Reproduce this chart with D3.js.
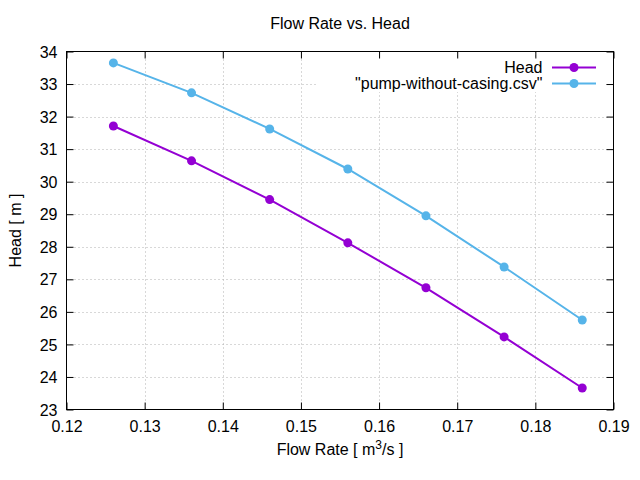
<!DOCTYPE html>
<html><head><meta charset="utf-8">
<script src="https://cdn.jsdelivr.net/npm/d3@7"></script>
<style>
html,body{margin:0;padding:0;background:#fff;}
text{font-family:"Liberation Sans",Arial,sans-serif;fill:#000;}
</style></head>
<body>
<svg id="chart" width="640" height="480"></svg>
<script>
const flowRate = [0.126, 0.136, 0.146, 0.156, 0.166, 0.176, 0.186];
const headValues = [31.71, 30.64, 29.45, 28.12, 26.74, 25.23, 23.66];
const pumpWithoutCasing = [33.65, 32.73, 31.62, 30.39, 28.95, 27.38, 25.75];
const xTicks = [0.12, 0.13, 0.14, 0.15, 0.16, 0.17, 0.18, 0.19];
const yTicks = [23, 24, 25, 26, 27, 28, 29, 30, 31, 32, 33, 34];
const seriesNames = ["Head", "\"pump-without-casing.csv\""];
const seriesColors = ["#9400d3", "#56b4e9"];
const titleText = "Flow Rate vs. Head";
const yLabelText = "Head [ m ]";

const svg = d3.select("#chart");
const L = 66.5, R = 613.5, T = 51.5, B = 409.5;
const x = d3.scaleLinear().domain([0.12, 0.19]).range([L, R]);
const y = d3.scaleLinear().domain([23, 34]).range([B, T]);
const FS = 16;

// grid
const grid = svg.append("g");
xTicks.slice(1, -1).forEach(t => {
  grid.append("line").attr("x1", Math.round(x(t)) + 0.5).attr("x2", Math.round(x(t)) + 0.5)
    .attr("y1", T).attr("y2", B).attr("stroke", "#b0b0b0").attr("stroke-width", 1).attr("stroke-dasharray", "1,3");
});
yTicks.slice(1, -1).forEach(t => {
  grid.append("line").attr("y1", Math.round(y(t)) + 0.5).attr("y2", Math.round(y(t)) + 0.5)
    .attr("x1", L).attr("x2", R).attr("stroke", "#b0b0b0").attr("stroke-width", 1).attr("stroke-dasharray", "1,3");
});

// legend background (opaque key)
svg.append("rect").attr("x", 316).attr("y", 57).attr("width", 290).attr("height", 35).attr("fill", "#fff");

// axes with inward ticks (mirrored)
const tl = 7;
const xb = svg.append("g").attr("transform", `translate(0,${B})`)
  .call(d3.axisBottom(x).tickValues(xTicks).tickSizeInner(-tl).tickSizeOuter(0).tickFormat(d3.format(".2f")));
const xt = svg.append("g").attr("transform", `translate(0,${T})`)
  .call(d3.axisTop(x).tickValues(xTicks).tickSizeInner(-tl).tickSizeOuter(0).tickFormat(""));
const yl = svg.append("g").attr("transform", `translate(${L},0)`)
  .call(d3.axisLeft(y).tickValues(yTicks).tickSizeInner(-tl).tickSizeOuter(0).tickFormat(d3.format("d")));
const yr = svg.append("g").attr("transform", `translate(${R},0)`)
  .call(d3.axisRight(y).tickValues(yTicks).tickSizeInner(-tl).tickSizeOuter(0).tickFormat(""));
[xb, xt, yl, yr].forEach(g => {
  g.select(".domain").remove();
  g.selectAll("line").attr("stroke", "#000");
  g.selectAll("text").attr("font-family", "Liberation Sans, Arial, sans-serif").attr("font-size", FS).attr("fill", "#000");
});
xb.selectAll("text").attr("dy", null).attr("y", 22.5);
yl.selectAll("text").attr("x", 57.5 - L).attr("dy", "0.35em");

// border
svg.append("rect").attr("x", L).attr("y", T).attr("width", R - L).attr("height", B - T)
  .attr("fill", "none").attr("stroke", "#000").attr("stroke-width", 1);

// series
const allSeries = [headValues, pumpWithoutCasing];
const line = d3.line().x(d => x(d[0])).y(d => y(d[1]));
allSeries.forEach((vals, i) => {
  const pts = flowRate.map((f, j) => [f, vals[j]]);
  svg.append("path").datum(pts).attr("d", line).attr("fill", "none")
    .attr("stroke", seriesColors[i]).attr("stroke-width", 2);
  svg.append("g").selectAll("circle").data(pts).join("circle")
    .attr("cx", d => x(d[0])).attr("cy", d => y(d[1])).attr("r", 4.5).attr("fill", seriesColors[i]);
});

// legend
seriesNames.forEach((name, i) => {
  const cy = 67.5 + i * 16;
  svg.append("text").attr("x", 542.5).attr("y", cy).attr("dy", "0.35em").attr("text-anchor", "end")
    .attr("font-size", FS).text(name);
  svg.append("line").attr("x1", 552).attr("x2", 596).attr("y1", cy).attr("y2", cy)
    .attr("stroke", seriesColors[i]).attr("stroke-width", 2);
  svg.append("circle").attr("cx", 574).attr("cy", cy).attr("r", 4.5).attr("fill", seriesColors[i]);
});

// title
svg.append("text").attr("x", (L + R) / 2).attr("y", 29).attr("text-anchor", "middle")
  .attr("font-size", FS).text(titleText);

// x label with superscript
const xl = svg.append("text").attr("x", (L + R) / 2).attr("y", 455).attr("text-anchor", "middle").attr("font-size", FS);
xl.append("tspan").text("Flow Rate [ m");
xl.append("tspan").attr("dy", -6).attr("font-size", 12).text("3");
xl.append("tspan").attr("dy", 6).text("/s ]");

// y label
svg.append("text").attr("transform", `translate(21,${(T + B) / 2}) rotate(-90)`)
  .attr("text-anchor", "middle").attr("font-size", FS).text(yLabelText);
</script>
</body></html>
